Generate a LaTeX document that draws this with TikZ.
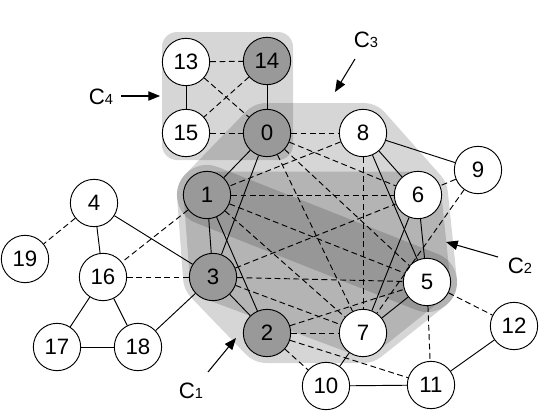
\documentclass[tikz,border=0pt]{standalone}
\usepackage{fontspec}
\setmainfont{Liberation Sans}
\usetikzlibrary{arrows.meta}
\pgfdeclarelayer{background}
\pgfsetlayers{background,main}
\tikzset{
  vertex/.style={
    shape=circle,
    draw,
    fill=white,
    line width=0.8pt,
    minimum size=14.2mm,
    inner sep=0pt,
    font=\fontsize{19}{19}\selectfont
  },
  shared/.style={
    vertex,
    fill=black!40
  },
  link/.style={line width=0.8pt},
  weak/.style={line width=0.8pt, dash pattern=on 5pt off 3pt},
  community/.style={
    fill=black,
    draw=black,
    line join=round
  },
  pointer/.style={line width=0.9pt, -{Triangle[length=10pt,width=8pt]}},
  commtext/.style={inner sep=0pt, font=\fontsize{19}{19}\selectfont}
}
\newcommand{\comm}[1]{C{\fontsize{12.5}{12.5}\selectfont #1}}

\begin{document}
\begin{tikzpicture}[x=0.3mm,y=-0.3mm]
  \useasboundingbox (0,0) rectangle (540,413);
  % vertices
  \node[vertex] (n13) at (186,62) {13};
  \node[shared] (n14) at (267,61) {14};
  \node[vertex] (n15) at (186,133) {15};
  \node[shared] (n0) at (267,133) {0};
  \node[vertex] (n8) at (363,133) {8};
  \node[vertex] (n9) at (478,170) {9};
  \node[shared] (n1) at (207,195) {1};
  \node[vertex] (n6) at (418,195) {6};
  \node[vertex] (n4) at (94,203) {4};
  \node[vertex] (n19) at (25,259) {19};
  \node[vertex] (n16) at (103,277) {16};
  \node[shared] (n3) at (213,277) {3};
  \node[vertex] (n5) at (427,282) {5};
  \node[vertex] (n12) at (514,326) {12};
  \node[vertex] (n17) at (57,347) {17};
  \node[vertex] (n18) at (138,347) {18};
  \node[shared] (n2) at (267,333) {2};
  \node[vertex] (n7) at (363,333) {7};
  \node[vertex] (n10) at (326,386) {10};
  \node[vertex] (n11) at (431,385) {11};

  \foreach \a/\b in {13/15,14/0,0/1,0/3,1/3,1/2,3/2,3/18,3/4,4/16,16/17,16/18,17/18,
                     8/9,8/6,8/5,6/5,6/7,5/7,7/10,10/11,11/12}
    \draw[link] (n\a) -- (n\b);
  \foreach \a/\b in {13/14,13/0,14/15,15/0,0/8,0/6,0/5,0/7,8/1,8/7,1/6,1/5,1/7,1/16,
                     3/16,3/6,3/5,3/7,2/5,2/7,2/11,2/10,9/6,9/7,5/12,5/11,4/19}
    \draw[weak] (n\a) -- (n\b);

  % communities
  \begin{pgfonlayer}{background}
    \begin{scope}[transparency group, opacity=0.16]
      \fill[rounded corners=4.5mm] (162,32) rectangle (293,160);
    \end{scope}
    \begin{scope}[transparency group, opacity=0.16]
      \filldraw[community, line width=18mm] (n0.center) -- (n8.center) -- (n6.center)
        -- (n5.center) -- (n1.center) -- cycle;
    \end{scope}
    \begin{scope}[transparency group, opacity=0.16]
      \filldraw[community, line width=18mm] (n1.center) -- (n5.center) -- (n7.center)
        -- (n2.center) -- (n3.center) -- cycle;
    \end{scope}
    \begin{scope}[transparency group, opacity=0.16]
      \filldraw[community, line width=14mm] (n1.center) -- (n6.center) -- (n5.center)
        -- (n7.center) -- (n3.center) -- cycle;
    \end{scope}
  \end{pgfonlayer}

  % labels
  \node[commtext] (c1) at (191,391) {\comm{1}};
  \node[commtext] (c2) at (520,266) {\comm{2}};
  \node[commtext] (c3) at (366,40) {\comm{3}};
  \node[commtext] (c4) at (101,97) {\comm{4}};
  \coordinate (c1tip) at (236,338);
  \coordinate (c2tip) at (446,242);
  \coordinate (c3tip) at (335,92);
  \coordinate (c4tip) at (160,96);
  \draw[pointer] (208,372) -- (c1tip);
  \draw[pointer] (498,257) -- (c2tip);
  \draw[pointer] (355,59) -- (c3tip);
  \draw[pointer] (121,96) -- (c4tip);
\end{tikzpicture}
\end{document}
